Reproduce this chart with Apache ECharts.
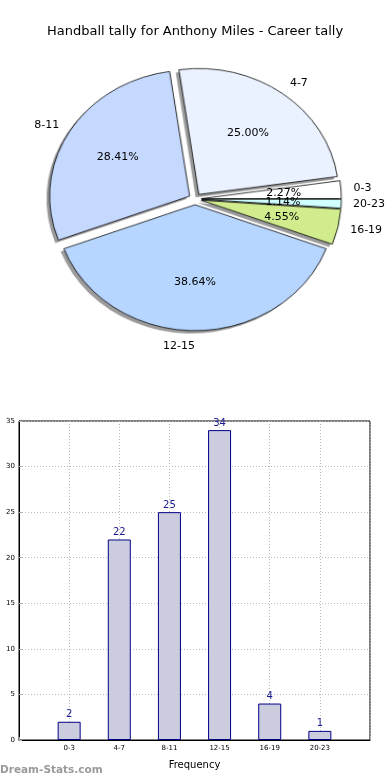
<!DOCTYPE html>
<html>
<head>
<meta charset="utf-8">
<script src="https://cdn.jsdelivr.net/npm/echarts@6/dist/echarts.min.js"></script>
<style>
html,body{margin:0;padding:0;background:#fff}
#wrap{position:relative;width:390px;height:780px;overflow:hidden}
#p{position:absolute;left:0;top:0;width:390px;height:400px;transform-origin:195px 199px;transform:scale(1.0526,0.947)}
#b{position:absolute;left:0;top:0;width:390px;height:780px}
</style>
</head>
<body>
<div id="wrap"><div id="p"></div><div id="b"></div></div>
<script>
const titleText = 'Handball tally for Anthony Miles - Career tally';
const categories = ['0-3', '4-7', '8-11', '12-15', '16-19', '20-23'];
const tallies = [2, 22, 25, 34, 4, 1];
const sliceColors = ['#ffffff', '#eaf1ff', '#c5d9ff', '#b7d6ff', '#d0ec8c', '#cfffff'];
const yMin = 0, yMax = 35, yStep = 5;
const xLabel = 'Frequency';
const yLabel = 'Number of Games';
const watermark = 'Dream-Stats.com';

// label placement tweaks (radial length, horizontal length) per slice
const nameLen  = [15, 6, 5.5, 8, 8, 1];
const nameLen2 = [0, 3, 6.5, -5, 6.5, 13];
const pctLen   = [-54.5, -56.6, -57.5, -56, -56, -55];
const pctLen2  = [-18, -22.4, -18.7, -26, -16.8, -18.5];

const total = tallies.reduce((a, b) => a + b, 0);
const FONT = 'DejaVu Sans';
const C = [195, 199], R = 133, OFF = 6;

const pieData = (extra) => categories.map((c, i) => Object.assign({ name: c, value: tallies[i], selected: true }, extra(i)));
const pieBase = {
  type: 'pie', silent: true, radius: R, startAngle: 0, clockwise: false,
  selectedMode: 'multiple', selectedOffset: OFF, avoidLabelOverlap: false,
  minShowLabelAngle: 0, emphasis: { disabled: true },
  labelLayout: { hideOverlap: false }
};

// shapes (scaled into an ellipse like the original)
const pie = echarts.init(document.getElementById('p'), null, { renderer: 'canvas' });
pie.setOption({
  animation: false,
  series: [
    Object.assign({}, pieBase, {
      center: [C[0] - 3, C[1] + 3], z: 1,
      label: { show: false }, labelLine: { show: false },
      itemStyle: { color: '#9b9b9b', borderWidth: 0 },
      data: pieData(() => ({}))
    }),
    Object.assign({}, pieBase, {
      center: C, z: 2,
      itemStyle: { borderColor: '#000', borderWidth: 0.8 },
      label: { show: false }, labelLine: { show: false },
      data: pieData(i => ({ itemStyle: { color: sliceColors[i] } }))
    })
  ]
});

// bar chart + title + pie labels (unscaled)
const bar = echarts.init(document.getElementById('b'), null, { renderer: 'canvas' });
bar.setOption({
  animation: false,
  title: {
    text: titleText, left: 'center', top: 20,
    textStyle: { fontFamily: FONT, fontSize: 13, fontWeight: 'normal', color: '#000' }
  },
  graphic: [{
    type: 'text', left: 0, top: 765,
    style: { text: watermark, font: 'bold 10.5px "DejaVu Sans"', fill: '#9a9a9a' }
  }],
  grid: { left: 19, right: 20, top: 421, bottom: 40, show: true, borderColor: '#000', borderWidth: 1,
          containLabel: false, outerBoundsMode: 'none' },
  xAxis: {
    type: 'category', data: [''].concat(categories, ['']), boundaryGap: false,
    axisLine: { lineStyle: { color: '#000' } },
    axisTick: { inside: true, length: 3, lineStyle: { color: '#aaa' } },
    axisLabel: { fontFamily: FONT, fontSize: 7, color: '#000', margin: 5 },
    splitLine: { show: true, lineStyle: { type: [1, 2], color: '#bbb' } },
    name: xLabel, nameLocation: 'middle', nameGap: 20,
    nameTextStyle: { fontFamily: FONT, fontSize: 10, color: '#000' }
  },
  yAxis: {
    type: 'value', min: yMin, max: yMax, interval: yStep,
    axisLine: { show: true, lineStyle: { color: '#000' } },
    axisTick: { show: true, inside: true, length: 3, lineStyle: { color: '#aaa' } },
    axisLabel: { fontFamily: FONT, fontSize: 7, color: '#000', margin: 4 },
    splitLine: { show: true, lineStyle: { type: [1, 2], color: '#bbb' } },
    name: yLabel, nameLocation: 'middle', nameGap: 20, nameRotate: 90,
    nameTextStyle: { fontFamily: FONT, fontSize: 9, color: '#000' }
  },
  series: [
    Object.assign({}, pieBase, {
      center: C, z: 3,
      itemStyle: { color: 'rgba(0,0,0,0)', borderWidth: 0 },
      label: { show: true, position: 'outside', formatter: '{b}', fontFamily: FONT, fontSize: 11, color: '#000' },
      labelLine: { show: false },
      data: pieData(i => ({ labelLine: { show: false, length: nameLen[i], length2: nameLen2[i] } }))
    }),
    Object.assign({}, pieBase, {
      center: C, z: 4,
      itemStyle: { color: 'rgba(0,0,0,0)', borderWidth: 0 },
      label: {
        show: true, position: 'outside', fontFamily: FONT, fontSize: 11, color: '#000',
        formatter: p => (p.value / total * 100).toFixed(2) + '%'
      },
      labelLine: { show: false },
      data: pieData(i => ({ labelLine: { show: false, length: pctLen[i], length2: pctLen2[i] } }))
    }),
    {
      type: 'bar', silent: true, barWidth: 23,
      data: ['-'].concat(tallies, ['-']),
      itemStyle: { color: '#ccccdf', borderColor: '#000088', borderWidth: 1 },
      label: { show: true, position: 'top', distance: 2, fontFamily: FONT, fontSize: 10, color: '#1a1a90' }
    }
  ]
});
</script>
</body>
</html>
